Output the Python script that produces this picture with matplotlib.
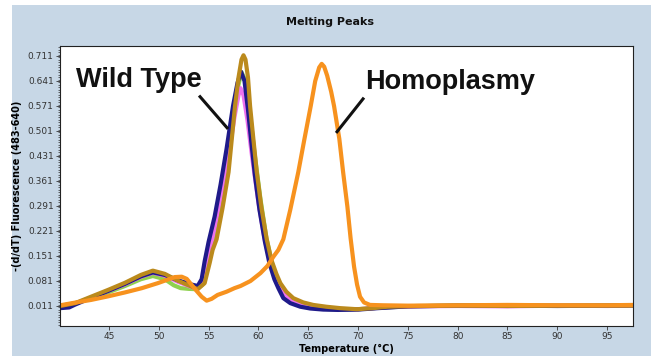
import matplotlib
matplotlib.use('Agg')
import matplotlib.pyplot as plt
from matplotlib.patches import Rectangle
from matplotlib.ticker import MultipleLocator

# temperature (C) and -(d/dT) fluorescence
t_green = [40.1, 41.6, 43.2, 44.9, 46.6, 48.2, 49.4, 50.6, 51.5, 52.2, 53.0, 53.8, 54.4, 54.8, 55.3, 56.0,
           56.8, 57.5, 58.0, 58.3, 58.7, 59.1, 59.6, 60.2, 60.8, 61.4, 62.0, 62.8, 63.8, 65.0, 66.5, 68.0,
           70.0, 72.0, 75, 80, 85, 90, 95, 97.6]
v_green = [0.010, 0.017, 0.032, 0.048, 0.066, 0.085, 0.094, 0.085, 0.068, 0.060, 0.058, 0.057, 0.070, 0.110,
           0.165, 0.250, 0.380, 0.540, 0.630, 0.665, 0.640, 0.560, 0.440, 0.310, 0.200, 0.125, 0.075, 0.040,
           0.018, 0.007, 0.002, 0.000, 0.001, 0.005, 0.009, 0.011, 0.011, 0.011, 0.011, 0.011]

t_magenta = [40.1, 41.6, 43.2, 44.9, 46.6, 48.2, 49.4, 50.6, 51.9, 53.3, 53.9, 54.5, 55.0, 55.6, 56.3, 57.0,
             57.6, 58.0, 58.2, 58.5, 58.9, 59.4, 60.0, 60.6, 61.2, 61.8, 62.5, 63.5, 65.0, 67.0, 70.0, 73.0,
             76, 80, 85, 90, 95, 97.6]
v_magenta = [0.009, 0.017, 0.034, 0.052, 0.071, 0.092, 0.103, 0.095, 0.078, 0.063, 0.058, 0.090, 0.150,
             0.230, 0.330, 0.430, 0.540, 0.600, 0.620, 0.600, 0.530, 0.420, 0.300, 0.200, 0.130, 0.080,
             0.045, 0.020, 0.008, 0.002, 0.001, 0.007, 0.009, 0.010, 0.009, 0.011, 0.010, 0.011]

t_navy = [40.1, 41.0, 41.6, 43.2, 44.9, 46.6, 48.2, 49.4, 50.6, 51.9, 53.3, 53.9, 54.3, 54.6, 55.0, 55.6,
          56.2, 56.8, 57.45, 57.9, 58.25, 58.6, 58.95, 59.3, 59.65, 60.1, 60.65, 61.1, 61.6, 62.0, 62.5,
          63.2, 64.2, 65.2, 66.5, 68.0, 70.0, 72.0, 75, 80, 85, 90, 95, 97.6]
v_navy = [0.004, 0.006, 0.014, 0.033, 0.052, 0.072, 0.093, 0.104, 0.097, 0.082, 0.070, 0.066, 0.085, 0.135,
          0.190, 0.260, 0.350, 0.450, 0.570, 0.635, 0.666, 0.640, 0.560, 0.465, 0.375, 0.280, 0.190, 0.130,
          0.085, 0.060, 0.032, 0.018, 0.008, 0.003, 0.000, -0.001, 0.000, 0.004, 0.009, 0.011, 0.011,
          0.010, 0.011, 0.012]

t_gold = [40.1, 41.6, 43.2, 44.9, 46.6, 48.2, 49.4, 50.6, 51.9, 53.3, 53.9, 54.6, 55.1, 55.4, 55.8, 56.4,
          57.0, 57.65, 58.0, 58.3, 58.5, 58.7, 58.95, 59.16, 59.5, 59.83, 60.3, 60.83, 61.3, 61.8, 62.2,
          62.8, 63.5, 64.5, 65.5, 66.8, 68.2, 69.9, 71.5, 73.0, 76, 80, 85, 90, 95, 97.6]
v_gold = [0.010, 0.018, 0.036, 0.055, 0.075, 0.097, 0.109, 0.100, 0.081, 0.064, 0.057, 0.074, 0.130, 0.167,
          0.197, 0.285, 0.385, 0.570, 0.650, 0.700, 0.712, 0.700, 0.650, 0.570, 0.475, 0.385, 0.285, 0.197,
          0.139, 0.100, 0.074, 0.050, 0.032, 0.020, 0.013, 0.008, 0.004, 0.001, 0.004, 0.008, 0.010, 0.011,
          0.010, 0.011, 0.011, 0.011]

t_orange = [40.1, 41.5, 43.2, 44.9, 46.6, 48.3, 49.9, 50.8, 51.6, 52.3, 52.8, 53.3, 53.8, 54.3, 54.8, 55.3,
            55.9, 56.8, 57.6, 58.2, 59.2, 60.2, 60.9, 61.5, 62.0, 62.5, 63.2, 64.0, 64.6, 65.25, 65.7, 66.1,
            66.35, 66.6, 66.9, 67.3, 67.59, 68.12, 68.5, 68.93, 69.25, 69.6, 69.9, 70.2, 70.6, 71.2, 72.5,
            75, 80, 85, 90, 95, 97.6]
v_orange = [0.012, 0.019, 0.027, 0.037, 0.048, 0.060, 0.074, 0.083, 0.091, 0.092, 0.086, 0.069, 0.052, 0.036,
            0.025, 0.030, 0.041, 0.050, 0.060, 0.066, 0.080, 0.102, 0.122, 0.148, 0.167, 0.197, 0.280, 0.385,
            0.475, 0.570, 0.640, 0.678, 0.688, 0.680, 0.655, 0.610, 0.570, 0.478, 0.385, 0.288, 0.200,
            0.120, 0.070, 0.036, 0.020, 0.013, 0.012, 0.011, 0.012, 0.013, 0.012, 0.012, 0.013]

x_ticks = [45, 50, 55, 60, 65, 70, 75, 80, 85, 90, 95]
y_ticks = [0.011, 0.081, 0.151, 0.221, 0.291, 0.361, 0.431, 0.501, 0.571, 0.641, 0.711]

fig = plt.figure(figsize=(6.51, 3.56), dpi=100, facecolor='white')
# light blue panel behind the plot
fig.patches.append(Rectangle((12 / 651, 0), 1, 1 - 5 / 356, transform=fig.transFigure,
                             facecolor='#c7d7e6', edgecolor='none', zorder=-5))

ax = fig.add_axes([60 / 651, 30 / 356, 573 / 651, 280 / 356])
ax.set_zorder(2)
ax.set_facecolor('white')

lw = 3.0
ax.plot(t_green, v_green, color='#8fd14f', lw=lw, solid_capstyle='round')
ax.plot(t_magenta, v_magenta, color='#ee72ee', lw=lw, solid_capstyle='round')
ax.plot(t_navy, v_navy, color='#1f1a8a', lw=lw, solid_capstyle='round')
ax.plot(t_gold, v_gold, color='#bb8a1c', lw=lw, solid_capstyle='round')
ax.plot(t_orange, v_orange, color='#f7921e', lw=lw, solid_capstyle='round')

ax.set_xlim(40.08, 97.6)
ax.set_ylim(-0.046, 0.738)
ax.set_xticks(x_ticks)
ax.set_yticks(y_ticks)
ax.set_yticklabels(['%.3f' % v for v in y_ticks])
ax.yaxis.set_minor_locator(MultipleLocator(0.007))
ax.tick_params(axis='both', which='major', length=3, width=0.6, color='#333333',
               labelsize=6.5, labelcolor='#333333', pad=1.5)
ax.tick_params(axis='y', which='minor', length=1.5, width=0.5, color='#333333')
for s in ax.spines.values():
    s.set_color('#222222')
    s.set_linewidth(0.8)

ax.set_xlabel('Temperature (\u00b0C)', fontsize=7, fontweight='bold', labelpad=2)
ax.set_ylabel('-(d/dT) Fluorescence (483-640)', fontsize=7, fontweight='bold', labelpad=4)
fig.text(330 / 651, 1 - 22 / 356, 'Melting Peaks', fontsize=8, fontweight='bold',
         ha='center', va='center', color='#111111')

# call-out labels
big = ['Liberation Sans', 'DejaVu Sans']
ax.text(41.69, 0.624, 'Wild Type', fontsize=19.5, fontweight='bold', family=big,
        va='baseline', ha='left', color='#111111')
ax.plot([54.14, 56.85], [0.596, 0.509], color='#111111', lw=2.2)
ax.text(70.7, 0.617, 'Homoplasmy', fontsize=19.5, fontweight='bold', family=big,
        va='baseline', ha='left', color='#111111')
ax.plot([70.5, 67.89], [0.590, 0.498], color='#111111', lw=2.2)

fig.savefig('out.png', dpi=100, facecolor=fig.get_facecolor())
